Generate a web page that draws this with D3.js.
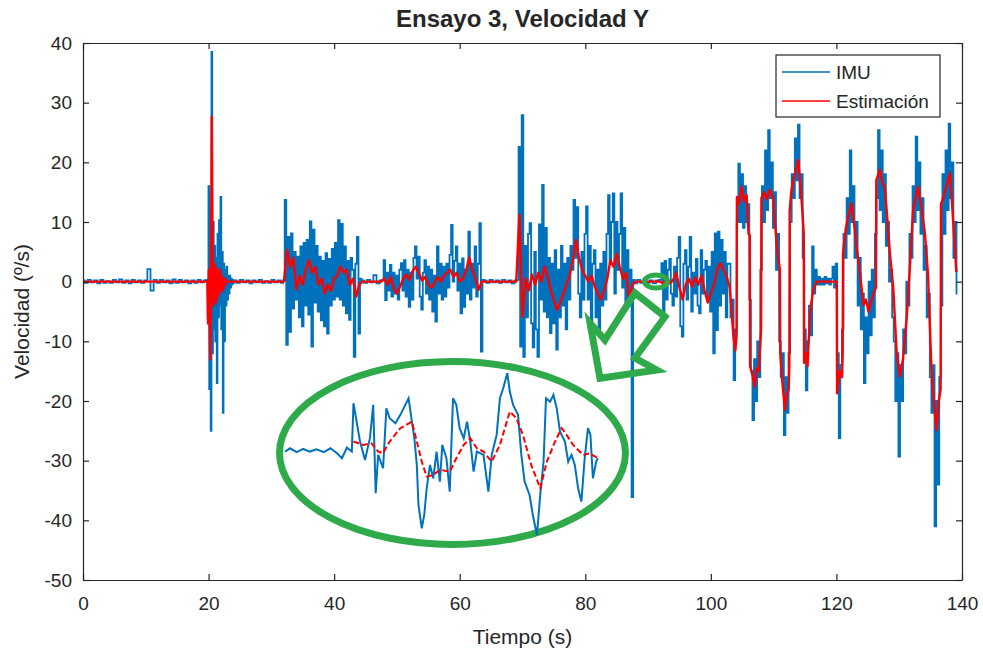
<!DOCTYPE html>
<html lang="es">
<head>
<meta charset="utf-8">
<title>Ensayo 3, Velocidad Y</title>
<script src="https://cdn.jsdelivr.net/npm/d3@7/dist/d3.min.js"></script>
<style>
  html, body { margin: 0; padding: 0; background: #ffffff; }
  svg { display: block; }
  text { font-family: "Liberation Sans", Arial, Helvetica, sans-serif; fill: #262626; }
</style>
</head>
<body>
<svg id="chart" width="983" height="655"></svg>
<script>
// ---- Axis ticks and text ----
const timeTicks = [0, 20, 40, 60, 80, 100, 120, 140];
const velocityTicks = [-50, -40, -30, -20, -10, 0, 10, 20, 30, 40];
const chartTitle = "Ensayo 3, Velocidad Y";
const xLabel = "Tiempo (s)";
const yLabel = "Velocidad (º/s)";
const seriesNames = ["IMU", "Estimación"];

// ---- IMU angular velocity (º/s) ----
// quiet, 0 - 19.5 s every 0.5 s
const imuQuiet0 = [0.2,-0.2,0.3,-0.1,0.2,-0.3,0.3,-0.2,0.1,-0.2, 0.3,-0.1,0.4,-0.2,0.2,-0.3,0.3,-0.1,0.2,-0.2,
                   0.2,2.1,-1.5,0.3,-0.2,0.3,-0.1,0.2,-0.3,0.4, -0.2,0.3,-0.1,0.2,-0.3,0.2,-0.2,0.3,-0.1,0.2];
// first burst, from 19.8 s every 0.12 s
const imuBurst1 = [0.3,-6.0,16.0,-18.0,12.0,-25.0,38.5,-12.0,10.0,-8.0,6.0,-10.0,
                   4.0,-17.0,8.0,-6.0,10.3,-4.0,14.2,-8.0,5.0,-22.0,3.0,-10.0,
                   2.0,-4.0,2.5,-3.0,1.0,-2.0,1.0,-1.0,0.5,-0.5,0.3,-0.2];
// quiet, 24.25 - 31.75 s every 0.5 s
const imuQuiet1 = [0.2,-0.2,0.3,-0.1,0.2,-0.3,0.2,-0.1,0.3,-0.2,0.1,-0.2,0.3,-0.1,0.2,-0.2];
// second burst, from 32.0 s every 0.25 s
const imuBurst2 = [0.2,13.7,-10.6,7.5, -8.4,8.1,-4.5,5.0, -3.0,4.2,-6.0,5.9, -7.5,6.5,-4.0,7.0,
                   -5.5,10.1,-10.9,8.7, -3.5,6.0,-5.0,4.2, -6.5,3.5,-7.5,4.8, -8.7,3.8,-4.0,5.5,
                   -3.0,6.5,-2.5,10.3, -3.0,9.7,-4.0,5.9, -5.3,3.5,-6.4,4.0, 2.0,-12.6,3.0,7.5,
                   -8.7,0.5];
// quiet, 44.5 - 47.5 s every 0.5 s
const imuQuiet2 = [0.2,-0.2,0.3,-0.1,1.1,-0.3,0.2];
// third burst, from 47.75 s every 0.25 s
const imuBurst3 = [0.3,3.6,-3.1,1.5, -1.5,2.8,-2.5,1.5, -2.0,1.0,-3.0,2.0, 3.1,-1.5,3.6,-2.5,
                   2.0,-4.2,1.5,-3.0, 4.0,5.9,0.5,4.2, -2.5,-4.7,1.5,3.6, -2.0,2.5,-3.0,2.0,
                   -5.0,1.0,-6.7,5.9, -2.0,3.0,-3.0,2.5, -2.5,3.0,-1.0,4.5, 9.5,0.0,3.5,5.9,
                   -1.5,3.0,-5.3,3.9, -4.2,2.0,-2.0,8.4, -3.0,3.0,-1.0,5.9, -2.5,3.0,9.8,-11.7,
                   0.3];
// quiet, 64.0 - 69.0 s every 0.5 s
const imuQuiet3 = [0.2,-0.2,0.3,-0.1,0.2,-0.2,0.3,-0.1,0.2,-0.3,0.2];
// fourth burst, from 69.25 s every 0.25 s
const imuBurst4 = [0.3,22.6,-10.9,27.9, -12.6,6.0,-6.0,8.0, 9.8,-7.0,-11.0,5.0, -8.0,-12.6,9.6,-3.0,
                   16.2,-5.0,9.0,-6.0, 4.0,-8.6,3.0,-7.0, 5.3,-11.4,2.0,-6.0, 6.0,-4.0,3.0,-8.0,
                   4.0,-3.0,6.0,2.0, 13.7,4.0,12.5,-2.0, -6.0,5.0,-3.0,8.0, 12.6,-3.0,6.0,-8.0,
                   3.0,5.3,-6.0,2.0, -8.0,3.0,-4.0,5.0, -3.0,8.0,14.5,3.0, 10.0,14.8,-2.0,10.0,
                   2.0,8.0,14.8,-1.0, 9.0,-4.0,5.3,-3.0, 2.0,-36.1,0.3];
// quiet, 88.0 - 91.5 s every 0.5 s
const imuQuiet4 = [-0.3,0.3,-0.2,0.3,-0.2,0.2,-0.3,0.2];
// fifth burst, from 92.0 s every 0.25 s
const imuBurst5 = [0.3,3.1,-5.3,3.5, -3.0,2.0,3.8,-2.0, -4.0,2.5,-2.5,4.0, 7.5,-7.5,-9.2,3.0,
                   5.3,-3.0,2.5,7.5, -5.0,1.5,-2.0,3.8, -4.0,-5.3,5.3,-2.0, 2.0,3.5,-3.0,2.5,
                   -5.0,5.0,-12.0,8.1, -8.1,8.4,-4.0,7.0, -2.0,5.0,-6.0,3.0];
// large oscillations, from 103.0 s every 0.25 s
const imuSwing = [3.0,-6.0,-3.0,-16.5, -8.0,10.0,19.8,10.0, 18.0,9.0,16.0,10.0, 13.0,-3.0,-15.0,-23.2,
                  -13.0,-20.0,-10.0,-16.0, 2.0,16.0,10.0,22.0, 12.0,25.4,14.0,20.0, 9.0,15.0,2.0,8.0,
                  -10.0,-16.0,-12.0,-25.7, -16.0,-22.0,-12.0,10.0, 18.0,14.0,24.0,17.0, 26.3,14.0,18.0,4.0,
                  -8.0,-18.2,-10.0,-4.0, -9.0,5.9,-2.0,2.0, -0.5,0.8,-0.5,0.5, -0.5,0.8,-0.3,0.5,
                  -0.5,0.5,2.5,-1.0, 3.0,-12.0,-26.2,-14.0, -8.0,8.0,4.0,14.0, 8.0,22.0,10.0,16.0,
                  4.0,10.0,-4.0,4.0, -8.0,-2.0,-17.0,-6.0, -12.0,0.0,-9.0,2.0, -6.0,8.0,14.0,25.4,
                  12.0,22.0,10.0,18.0, 6.0,10.0,0.0,2.0, -6.0,-10.0,-20.0,-12.0, -29.3,-14.0,-20.0,-8.0,
                  -12.0,0.0,-4.0,8.0, 4.0,16.0,10.0,24.3, 12.0,20.0,8.0,14.0, 2.0,6.0,-6.0,-2.0,
                  -16.0,-22.0,-14.0,-41.0, -20.0,-34.0,-16.0,-4.0, 18.0,8.0,22.0,12.0, 26.5,14.0,20.0,4.0,
                  10.0,-2.0];

// ---- Estimated angular velocity (º/s) ----
const estBurst1 = [0,-7.0,2.0,-6.0,-13.0,5.0,27.6,3.0,-4.0,3.0,-3.0,2.5,-3.5,2.0,
                   -2.5,1.5,-2.0,2.0,-1.5,1.0,-1.5,0.5,-1.0,0.5,-0.5,0.3,0];
const estBurst2 = [0,5.3,2.5,4.0,-1.3,1.0,-0.5,2.0,3.6,1.5,2.5,-0.5,0.5,-2.0,-0.5,-1.5,
                   0.5,1.0,2.5,1.5,2.0,-0.5,0.5,-2.5,-0.5,0];
const estBurst3 = [0,0.5,-0.5,0.8,-1.2,-2.0,-0.8,0.5,1.2,0.3,1.8,2.5,1.5,0.2,0.8,-0.5,-1.0,
                   -0.2,0.8,0.0,1.0,1.5,2.0,0.8,1.5,0.0,0.5,1.8,4.0,2.0,0.5,-1.4,0.0,0];
const estBurst4 = [0,11.2,-5.9,0.5,-1.5,1.2,-0.5,1.5,0.0,2.5,1.0,-1.5,-3.0,-4.7,-3.5,-2.0,-0.5,
                   1.0,3.5,7.0,4.0,2.0,1.0,0.0,1.0,-0.8,-2.0,-3.0,-1.5,0.5,3.6,2.5,4.7,2.5,0.5,
                   1.5,-3.0,-0.5,0];
const estBurst5 = [0,-0.5,0.8,-0.3,0.3,1.5,-1.0,-3.0,-0.5,0.5,-0.8,0.7,-0.5,1.0,-1.5,-3.5,
                   -2.0,-0.5,2.0,3.1,2.0,1.0,-1.0];
// large oscillations as [time, value]
const estSwing = [[103.0,-1.0],[103.3,-5],[103.6,-9.2],[103.9,-11.5],[104.1,-9],[104.15,14.2],[104.5,13],
  [104.9,15.9],[105.3,13.5],[105.7,14.5],[106.0,8],[106.2,7.8],[106.25,-14.2],[106.6,-15.5],[107.0,-17.6],
  [107.3,-14.5],[107.6,-15],[107.9,-10],[108.0,-8],[108.05,14],[108.5,15],[108.9,13.8],[109.4,15.4],
  [109.9,14],[110.2,10],[110.6,5],[111.0,2],[111.05,-12],[111.4,-17],[111.8,-21.5],[112.1,-19],
  [112.4,-18],[112.5,-14],[112.55,11.8],[112.8,15],[113.1,17],[113.5,18.5],[113.9,20.4],[114.2,17],
  [114.5,13],[114.8,8],[114.85,-13.6],[115.1,-12],[115.4,-14.2],[115.8,-5],[116.3,-1.5],[116.85,0],
  [120.05,0],[120.1,-18.7],[120.5,-15],[120.9,-16],[121.0,-12],[121.05,4.8],[121.5,9],[121.9,11],
  [122.4,13.1],[122.9,9],[123.3,5],[123.7,2],[124.0,-1],[124.3,-3.9],[124.7,-3],[125.1,-5],[125.5,-3.5],
  [125.9,-2],[126.3,-1],[126.35,17],[126.9,18.7],[127.3,16.5],[127.7,16],[128.0,12],[128.5,5],
  [129.05,-1],[129.4,-8],[129.6,-12],[130.1,-15.9],[130.6,-13],[131.2,-6],[131.7,2.5],[132.0,8],
  [132.2,12],[132.6,14],[133.0,15.9],[133.6,12],[134.1,8],[134.6,1],[134.9,-8],[135.15,-15],
  [135.5,-20],[135.95,-24.9],[136.3,-20],[136.6,-18],[136.65,13],[137.0,14],[137.5,16],[138.1,18.2],
  [138.6,10],[139.1,1.6]];

// ---- Close-up of the 89.2 - 93.0 s window (shown enlarged inside the ellipse) ----
const zoomImu = [[89.20,-0.17],[89.26,0.17],[89.34,-0.24],[89.42,0.10],[89.50,-0.17],[89.58,0.07],
  [89.67,-0.24],[89.75,0.17],[89.83,-0.35],[89.89,-0.87],[89.95,0.24],[90.01,-0.17],[90.03,4.86],
  [90.11,0.87],[90.17,-1.04],[90.23,1.22],[90.27,4.69],[90.30,-4.51],[90.33,-0.52],[90.39,-1.91],
  [90.43,4.34],[90.47,3.30],[90.54,2.78],[90.60,3.65],[90.66,4.69],[90.70,5.38],[90.74,2.95],
  [90.77,1.22],[90.80,-1.56],[90.82,-5.73],[90.86,-8.16],[90.89,-6.77],[90.92,-3.99],[90.96,-1.56],
  [91.00,-2.95],[91.04,-0.17],[91.08,-3.30],[91.11,0.52],[91.16,-0.87],[91.20,-4.34],[91.24,5.38],
  [91.28,4.69],[91.32,2.26],[91.37,1.22],[91.41,2.95],[91.45,0.87],[91.49,-2.26],[91.53,-0.17],
  [91.61,-0.52],[91.67,-4.34],[91.71,-0.52],[91.77,1.56],[91.81,5.38],[91.85,6.42],[91.90,8.0],
  [91.93,6.08],[91.97,4.69],[92.03,3.65],[92.07,-0.52],[92.11,-3.30],[92.17,-4.69],[92.21,-6.77],
  [92.26,-8.85],[92.30,-4.69],[92.34,-1.22],[92.37,5.38],[92.42,5.03],[92.46,5.73],[92.50,4.34],
  [92.54,1.91],[92.60,0.87],[92.64,-1.22],[92.68,-0.52],[92.72,-1.56],[92.76,-3.99],[92.80,-5.38],
  [92.84,-0.87],[92.88,2.26],[92.91,1.56],[92.94,-2.95],[92.98,-1.22],[93.00,-0.87]];
const zoomEst = [[90.03,0.87],[90.15,0.52],[90.25,0.69],[90.33,-0.17],[90.39,-0.35],[90.47,0.87],
  [90.60,2.26],[90.74,2.95],[90.80,0.87],[90.86,-1.22],[90.92,-2.78],[91.00,-2.60],[91.08,-2.08],
  [91.20,-2.26],[91.28,-0.87],[91.37,0.52],[91.45,1.22],[91.53,0.17],[91.61,-0.17],[91.71,-1.22],
  [91.81,0.52],[91.93,3.99],[92.01,3.30],[92.09,1.56],[92.19,-1.56],[92.30,-3.99],[92.38,-1.22],
  [92.48,0.87],[92.56,2.26],[92.62,1.56],[92.70,0.52],[92.82,-0.52],[92.90,-0.35],[93.00,-0.87]];

// ---- Build the series ----
const imuSegments = [
  { t0: 0,     dt: 0.5,  v: imuQuiet0 },
  { t0: 19.8,  dt: 0.12, v: imuBurst1 },
  { t0: 24.25, dt: 0.5,  v: imuQuiet1 },
  { t0: 32.0,  dt: 0.25, v: imuBurst2 },
  { t0: 44.5,  dt: 0.5,  v: imuQuiet2 },
  { t0: 47.75, dt: 0.25, v: imuBurst3 },
  { t0: 64.0,  dt: 0.5,  v: imuQuiet3 },
  { t0: 69.25, dt: 0.25, v: imuBurst4 },
  { t0: 88.0,  dt: 0.5,  v: imuQuiet4 },
  { t0: 92.0,  dt: 0.25, v: imuBurst5 },
  { t0: 103.0, dt: 0.25, v: imuSwing }
];
const estSegments = [
  { t0: 0,     dt: 19.8, v: [0, 0] },
  { t0: 19.8,  dt: 0.12, v: estBurst1 },
  { t0: 22.92, dt: 9.08, v: [0, 0] },
  { t0: 32.0,  dt: 0.5,  v: estBurst2 },
  { t0: 44.5,  dt: 3.0,  v: [0, 0] },
  { t0: 47.5,  dt: 0.5,  v: estBurst3 },
  { t0: 64.0,  dt: 5.0,  v: [0, 0] },
  { t0: 69.0,  dt: 0.5,  v: estBurst4 },
  { t0: 88.0,  dt: 4.0,  v: [0, 0] },
  { t0: 92.0,  dt: 0.5,  v: estBurst5 }
];
const expand = segs => segs.flatMap(s => s.v.map((v, i) => ({ t: s.t0 + i * s.dt, v })));
const imuData = expand(imuSegments);
const estData = expand(estSegments).concat(estSwing.map(([t, v]) => ({ t, v })));

// ---- Layout ----
const svg = d3.select("#chart");
const plot = { left: 83, right: 962, top: 43, bottom: 580 };
const x = d3.scaleLinear().domain([0, 140]).range([plot.left, plot.right]);
const y = d3.scaleLinear().domain([-50, 40]).range([plot.bottom, plot.top]);
const colors = { imu: "#0072bd", est: "#ff0000", mark: "#2eaa4a", axis: "#262626" };

svg.append("rect").attr("width", 983).attr("height", 655).attr("fill", "#fff");

svg.append("clipPath").attr("id", "plot-clip")
  .append("rect")
  .attr("x", plot.left).attr("y", plot.top)
  .attr("width", plot.right - plot.left).attr("height", plot.bottom - plot.top);

// ---- Lines ----
// the IMU trace is sampled-and-held (step), which reads as the dense band of the raw signal
const imuLine = d3.line().x(d => x(d.t)).y(d => y(d.v)).curve(d3.curveStep);
const estLine = d3.line().x(d => x(d.t)).y(d => y(d.v));
const lines = svg.append("g").attr("clip-path", "url(#plot-clip)");
lines.append("path").datum(imuData)
  .attr("d", imuLine).attr("fill", "none")
  .attr("stroke", colors.imu).attr("stroke-width", 1.8).attr("stroke-linejoin", "miter");
lines.append("path").datum(estData)
  .attr("d", estLine).attr("fill", "none")
  .attr("stroke", colors.est).attr("stroke-width", 2.4).attr("stroke-linejoin", "round");

// ---- Axes (box with inward ticks on all four sides) ----
const plainNumber = d => String(d);
function styleAxis(g) {
  g.attr("font-size", null).attr("font-family", null);
  g.select(".domain").attr("stroke", colors.axis).attr("stroke-width", 1.2);
  g.selectAll(".tick line").attr("stroke", colors.axis).attr("stroke-width", 1.2);
  g.selectAll(".tick text").attr("fill", colors.axis).style("font-size", "19px");
}
svg.append("g").attr("transform", `translate(0,${plot.bottom})`)
  .call(d3.axisBottom(x).tickValues(timeTicks).tickFormat(plainNumber)
    .tickSizeInner(-6).tickSizeOuter(0).tickPadding(17))
  .call(styleAxis);
svg.append("g").attr("transform", `translate(0,${plot.top})`)
  .call(d3.axisTop(x).tickValues(timeTicks).tickSizeInner(-6).tickSizeOuter(0).tickFormat(""))
  .call(styleAxis);
svg.append("g").attr("transform", `translate(${plot.left},0)`)
  .call(d3.axisLeft(y).tickValues(velocityTicks).tickFormat(plainNumber)
    .tickSizeInner(-6).tickSizeOuter(0).tickPadding(11))
  .call(styleAxis);
svg.append("g").attr("transform", `translate(${plot.right},0)`)
  .call(d3.axisRight(y).tickValues(velocityTicks).tickSizeInner(-6).tickSizeOuter(0).tickFormat(""))
  .call(styleAxis);

// ---- Titles ----
svg.append("text")
  .attr("x", (plot.left + plot.right) / 2).attr("y", 27)
  .attr("text-anchor", "middle").style("font-size", "24px").style("font-weight", "bold")
  .attr("fill", "#111").text(chartTitle);
svg.append("text")
  .attr("x", (plot.left + plot.right) / 2).attr("y", 644)
  .attr("text-anchor", "middle").style("font-size", "21px").text(xLabel);
svg.append("text")
  .attr("transform", `translate(29,${(plot.top + plot.bottom) / 2}) rotate(-90)`)
  .attr("text-anchor", "middle").style("font-size", "21px").text(yLabel);

// ---- Annotation: highlighted window, arrow and enlarged close-up ----
const ann = svg.append("g").attr("fill", "none").attr("stroke", colors.mark);
const pxPerSec = x(1) - x(0), pxPerUnit = y(0) - y(1);

// small ellipse around 91.3 s
ann.append("ellipse")
  .attr("cx", x(91.26)).attr("cy", y(0.03))
  .attr("rx", 1.83 * pxPerSec).attr("ry", 1.09 * pxPerUnit)
  .attr("stroke-width", 5);

// hollow arrow pointing towards the close-up
const arrowOutline = [[82.34,-16.19],[80.75,-6.92],[83.13,-9.77],[87.91,-1.89],
                      [92.69,-5.87],[87.91,-12.79],[91.37,-14.80]];
ann.append("path")
  .attr("d", d3.line().x(d => x(d[0])).y(d => y(d[1])).curve(d3.curveLinearClosed)(arrowOutline))
  .attr("stroke-width", 7).attr("stroke-linejoin", "miter");

// large ellipse framing the close-up
ann.append("ellipse")
  .attr("cx", x(58.85)).attr("cy", y(-28.71))
  .attr("rx", 27.55 * pxPerSec).attr("ry", 15.33 * pxPerUnit)
  .attr("stroke-width", 7);

// close-up: 89.2 - 93.0 s stretched over 32.2 - 82.0 s, centred on -28.2 º/s, gain 1.61
const zx = d3.scaleLinear().domain([89.2, 93.0]).range([x(32.2), x(82.0)]);
const zy = d3.scaleLinear().domain([-10, 10]).range([y(-28.2 - 16.1), y(-28.2 + 16.1)]);
const zline = d3.line().x(d => zx(d[0])).y(d => zy(d[1]));
svg.append("path").datum(zoomImu).attr("d", zline)
  .attr("fill", "none").attr("stroke", colors.imu).attr("stroke-width", 2);
svg.append("path").datum(zoomEst).attr("d", zline)
  .attr("fill", "none").attr("stroke", colors.est).attr("stroke-width", 2)
  .attr("stroke-dasharray", "6,3");

// ---- Legend ----
const legend = svg.append("g").attr("transform", "translate(776,55)");
legend.append("rect").attr("width", 164).attr("height", 62)
  .attr("fill", "#fff").attr("stroke", colors.axis).attr("stroke-width", 1.2);
const legendColors = [colors.imu, colors.est];
seriesNames.forEach((name, i) => {
  const cy = 17 + i * 29;
  legend.append("line").attr("x1", 6).attr("x2", 54).attr("y1", cy).attr("y2", cy)
    .attr("stroke", legendColors[i]).attr("stroke-width", 1.6);
  legend.append("text").attr("x", 60).attr("y", cy).attr("dy", "0.35em")
    .style("font-size", "19px").text(name);
});
</script>
</body>
</html>
